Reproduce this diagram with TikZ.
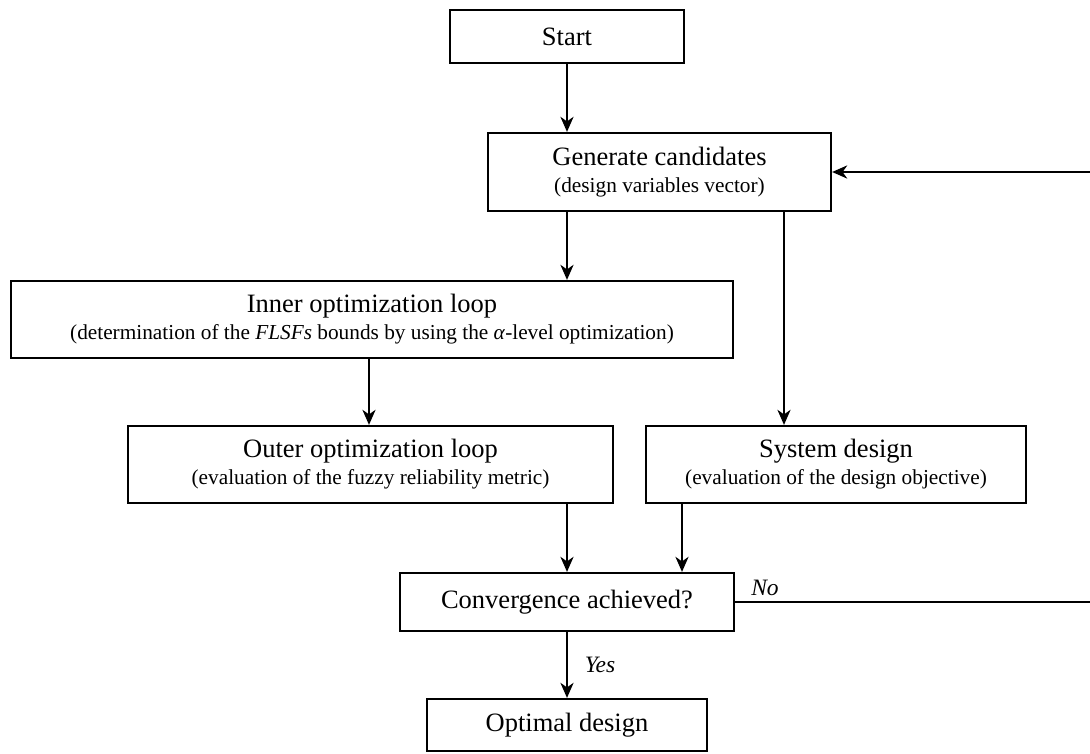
\documentclass[tikz,border=0pt]{standalone}
\usepackage{fontspec}
\setmainfont{Liberation Serif}
\usetikzlibrary{arrows.meta}
\newcommand\boxtitle[1]{{\fontsize{26.5}{29}\selectfont #1}}
\begin{document}
\begin{tikzpicture}[x=1pt,y=-1pt,
  box/.style={draw, rectangle, line width=2.2pt, inner sep=0pt, align=center,
              font=\fontsize{21.3}{27}\selectfont},
  arr/.style={line width=2.4pt, -{Stealth[length=15pt,width=13pt,inset=4.5pt]}},
  plain/.style={line width=2.2pt},
  lbl/.style={font=\fontsize{23.5}{25}\selectfont\itshape, inner sep=0pt}]
\useasboundingbox (0,0) rectangle (1090,753);

% process boxes
\node[box, minimum width=234pt, minimum height=53pt] (start) at (567,36.5)
  {\boxtitle{Start}};
\node[box, minimum width=343pt, minimum height=78pt] (gen) at (659.5,172)
  {\boxtitle{Generate candidates}\\(design variables vector)};
\node[box, minimum width=722pt, minimum height=77pt] (inner) at (372,319.5)
  {\boxtitle{Inner optimization loop}\\(determination of the \textit{FLSFs} bounds by using the \textit{α}-level optimization)};
\node[box, minimum width=485pt, minimum height=77pt] (outer) at (370.5,464.5)
  {\boxtitle{Outer optimization loop}\\(evaluation of the fuzzy reliability metric)};
\node[box, minimum width=380pt, minimum height=77pt] (sys) at (836,464.5)
  {\boxtitle{System design}\\(evaluation of the design objective)};
\node[box, minimum width=334pt, minimum height=58pt] (conv) at (567,602)
  {\boxtitle{Convergence achieved?}};
\node[box, minimum width=280pt, minimum height=52pt] (opt) at (567,725)
  {\boxtitle{Optimal design}};

% loose ends of the feedback lines at the right border
\coordinate (fbR) at (1090,172);
\coordinate (noR) at (1090,602);

% connectors
\draw[arr] (start.south) -- (start.south |- gen.north);
\draw[arr] (gen.south -| conv.north) -- (inner.north -| conv.north);
\draw[arr] (gen.south -| 784,0) -- (sys.north -| 784,0);
\draw[arr] (inner.south -| 369,0) -- (outer.north -| 369,0);
\draw[arr] (outer.south -| conv.north) -- (conv.north);
\draw[arr] (sys.south -| 682,0) -- (conv.north -| 682,0);
\draw[arr] (conv.south) -- (opt.north);
\draw[arr] (fbR) -- (gen.east);
\draw[plain] (conv.east) -- (noR);

% branch labels
\node[lbl] (nolbl) at (765,588) {No};
\node[lbl] (yeslbl) at (600,665) {Yes};
\end{tikzpicture}
\end{document}
